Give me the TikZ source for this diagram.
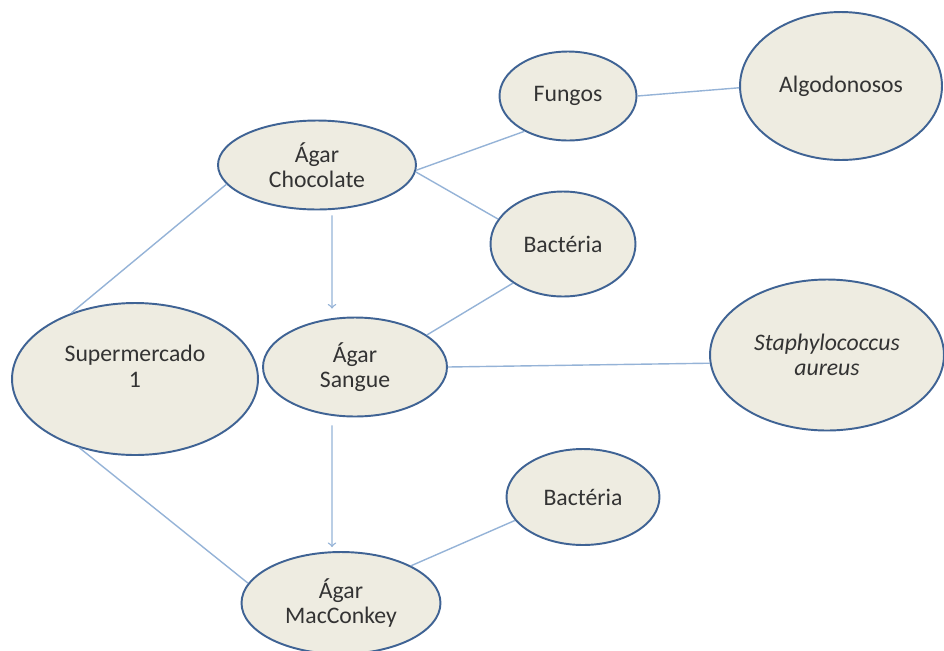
\documentclass[tikz,border=0pt]{standalone}
\usepackage{fontspec}
\setmainfont{Carlito}
\usetikzlibrary{shapes.geometric}
\definecolor{meiofill}{HTML}{EEECE1}
\definecolor{meioborda}{HTML}{3F6394}
\definecolor{ligacao}{HTML}{95B3D7}
\begin{document}
\begin{tikzpicture}[x=0.02cm,y=-0.02cm,
    meio/.style={ellipse,draw=meioborda,line width=1.1pt,fill=meiofill,inner sep=0pt,
        align=center,font=\fontsize{13.5}{14.5}\selectfont,text=black!80},
    liga/.style={draw=ligacao,line width=0.8pt},
    seta/.style={liga,->}]
    \useasboundingbox (0,0) rectangle (944,650);
    \node[meio,minimum width=4.92cm,minimum height=3.04cm] (super) at (135,379) {Supermercado\\1\\ };
    \node[meio,minimum width=3.96cm,minimum height=1.78cm] (choc) at (317,165) {Ágar\\Chocolate};
    \node[meio,minimum width=2.74cm,minimum height=1.78cm] (fungos) at (568,96) {Fungos};
    \node[meio,minimum width=4.04cm,minimum height=2.96cm] (algod) at (841,86) {Algodonosos};
    \node[meio,minimum width=2.90cm,minimum height=2.10cm] (bact1) at (563,244) {Bactéria};
    \node[meio,minimum width=3.68cm,minimum height=1.98cm] (sangue) at (355,367) {Ágar\\Sangue};
    \node[meio,minimum width=4.68cm,minimum height=3.02cm] (staph) at (827,355) {\itshape Staphylococcus\\\itshape aureus};
    \node[meio,minimum width=3.06cm,minimum height=1.92cm] (bact2) at (583,497) {Bactéria};
    \node[meio,minimum width=3.98cm,minimum height=2.04cm] (macc) at (341,603) {Ágar\\MacConkey};
    % ligacoes
    \draw[liga] (super.134) -- (choc.192);
    \draw[liga] (super.231) -- (macc.168);
    \draw[liga] (choc.-3) -- (fungos.219);
    \draw[liga] (choc.-4) -- (bact1.159);
    \draw[liga] (sangue.24) -- (bact1.218);
    \draw[liga] (sangue.east) -- (staph.184);
    \draw[liga] (fungos.east) -- (algod.181);
    \draw[liga] (macc.28) -- (bact2.199);
    % setas
    \draw[seta] ([xshift=0.3cm,yshift=-0.1cm]choc.south) -- ([xshift=-0.46cm,yshift=0.16cm]sangue.north);
    \draw[seta] ([xshift=-0.46cm,yshift=-0.16cm]sangue.south) -- ([xshift=-0.18cm,yshift=0.08cm]macc.north);
\end{tikzpicture}
\end{document}
